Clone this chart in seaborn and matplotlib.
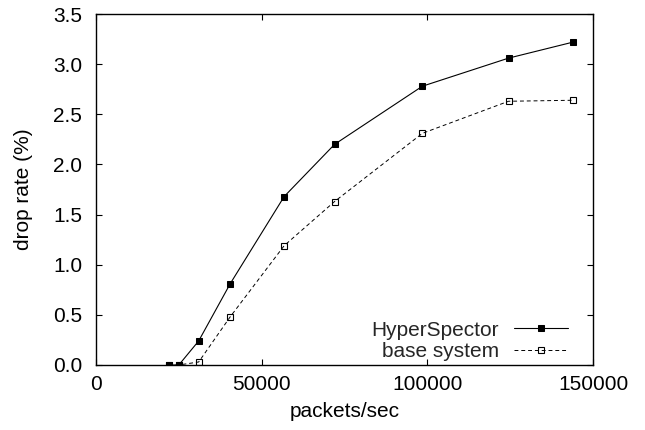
import matplotlib
matplotlib.use("Agg")
import matplotlib.pyplot as plt
import seaborn as sns
import pandas as pd

packets = [22000, 25000, 31000, 40500, 56800, 72000, 98500, 124500, 144000]
hyper = [0.0, 0.0, 0.24, 0.81, 1.68, 2.20, 2.78, 3.06, 3.22]
base = [0.0, 0.0, 0.03, 0.48, 1.19, 1.63, 2.31, 2.63, 2.64]
series_names = ["HyperSpector", "base system"]
x_ticks = [0, 50000, 100000, 150000]
y_ticks = [0.0, 0.5, 1.0, 1.5, 2.0, 2.5, 3.0, 3.5]

sns.set_theme(style="ticks")
plt.rcParams['font.family'] = ['Liberation Sans', 'DejaVu Sans']

fig = plt.figure(figsize=(6.45, 4.3), dpi=100)
ax = fig.add_axes([0.1488, 0.1512, 0.7706, 0.8162])

df_h = pd.DataFrame({"x": packets, "y": hyper})
df_b = pd.DataFrame({"x": packets, "y": base})

sns.lineplot(data=df_h, x="x", y="y", ax=ax, color="black", linewidth=0.8,
             marker="s", markersize=4, markerfacecolor="black",
             markeredgecolor="black", label=series_names[0])
sns.lineplot(data=df_b, x="x", y="y", ax=ax, color="black", linewidth=0.7,
             linestyle=(0, (4, 3)), marker="s", markersize=3.8,
             markerfacecolor="none", markeredgecolor="black",
             markeredgewidth=0.8, label=series_names[1])

ax.set_xlim(0, 150000)
ax.set_ylim(0, 3.5)
ax.set_xticks(x_ticks)
ax.set_xticklabels([str(v) for v in x_ticks])
ax.set_yticks(y_ticks)
ax.set_yticklabels([f"{v:.1f}" for v in y_ticks])
ax.tick_params(direction="in", length=4, width=0.8, top=True, right=True,
               labelsize=15, colors="black")
ax.tick_params(axis="x", pad=7)
ax.tick_params(axis="y", pad=10)
for s in ax.spines.values():
    s.set_linewidth(1.0)
    s.set_color("black")
ax.set_xlabel("packets/sec", fontsize=15, color="black", labelpad=6)
ax.set_ylabel("drop rate (%)", fontsize=15, color="black", labelpad=14)

leg = ax.legend(loc="lower right", bbox_to_anchor=(0.958, 0.0),
                frameon=False, markerfirst=False,
                fontsize=15, handlelength=2.6, handletextpad=0.7,
                labelspacing=0.1, borderaxespad=0.0, borderpad=0.2)

fig.savefig("out.png", dpi=100)
